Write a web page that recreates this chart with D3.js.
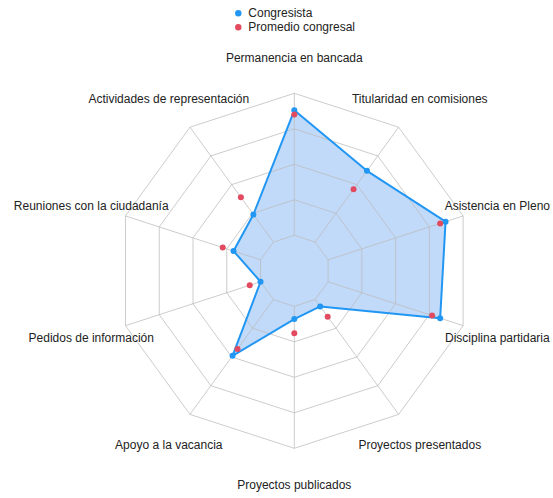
<!DOCTYPE html>
<html>
<head>
<meta charset="utf-8">
<script src="https://cdn.jsdelivr.net/npm/d3@7"></script>
<style>
  html, body { margin: 0; padding: 0; background: #fff; }
  svg { display: block; font-family: "Liberation Sans", Arial, sans-serif; }
</style>
</head>
<body>
<svg id="chart" width="553" height="498"></svg>
<script>
// Indicators, clockwise from the top
const categories = [
  "Permanencia en bancada",
  "Titularidad en comisiones",
  "Asistencia en Pleno",
  "Disciplina partidaria",
  "Proyectos presentados",
  "Proyectos publicados",
  "Apoyo a la vacancia",
  "Pedidos de información",
  "Reuniones con la ciudadanía",
  "Actividades de representación"
];
// Scores on a 0–100 scale
const congresista = [88, 62, 87, 83, 6, 9, 49, 0, 20, 24];
const promedio    = [85, 46, 83, 77, 15, 19, 43, 8, 28, 39];
const seriesNames = ["Congresista", "Promedio congresal"];
const ringValues  = [0, 25, 50, 75, 100];

const svg = d3.select("#chart");
const cx = 294.3, cy = 270.8;
const rInner = 35.5, rOuter = 177.5, rLabel = 213.5;
const blue = "#2196f3", red = "#e24a5f";

const angle = d3.scalePoint()
  .domain(categories)
  .range([0, 2 * Math.PI - 2 * Math.PI / categories.length]);
const r = d3.scaleLinear().domain([0, 100]).range([rInner, rOuter]);

const pt = (cat, rad) => {
  const a = angle(cat);
  return [cx + rad * Math.sin(a), cy - rad * Math.cos(a)];
};

const g = svg.append("g");

// Filled area for the congresista
const line = d3.line();
g.append("path")
  .attr("d", line(categories.map((c, i) => pt(c, r(congresista[i])))) + "Z")
  .attr("fill", "#4d94f0")
  .attr("fill-opacity", 0.35)
  .attr("stroke", "none");

// Decagon grid rings and spokes
const grid = g.append("g").attr("fill", "none").attr("stroke", "#bbbbbb").attr("stroke-width", 1).attr("stroke-opacity", 0.75);
ringValues.forEach(v => {
  grid.append("path").attr("d", line(categories.map(c => pt(c, r(v)))) + "Z");
});
categories.forEach(c => {
  const p0 = pt(c, r(0)), p1 = pt(c, r(100));
  grid.append("line").attr("x1", p0[0]).attr("y1", p0[1]).attr("x2", p1[0]).attr("y2", p1[1]);
});

// Congresista outline and points
g.append("path")
  .attr("d", line(categories.map((c, i) => pt(c, r(congresista[i])))) + "Z")
  .attr("fill", "none")
  .attr("stroke", blue)
  .attr("stroke-width", 2)
  .attr("stroke-linejoin", "round");
g.append("g").selectAll("circle").data(categories).join("circle")
  .attr("cx", (c, i) => pt(c, r(congresista[i]))[0])
  .attr("cy", (c, i) => pt(c, r(congresista[i]))[1])
  .attr("r", 3)
  .attr("fill", blue);

// Average points
g.append("g").selectAll("circle").data(categories).join("circle")
  .attr("cx", (c, i) => pt(c, r(promedio[i]))[0])
  .attr("cy", (c, i) => pt(c, r(promedio[i]))[1])
  .attr("r", 3)
  .attr("fill", red);

// Axis labels
g.append("g").selectAll("text").data(categories).join("text")
  .attr("x", c => pt(c, rLabel)[0])
  .attr("y", c => pt(c, rLabel)[1] + 1)
  .attr("text-anchor", "middle")
  .attr("dominant-baseline", "central")
  .attr("font-size", 12)
  .attr("fill", "#222")
  .text(c => c);

// Legend
const legend = svg.append("g").attr("transform", "translate(238.3,13.3)");
[blue, red].forEach((col, i) => {
  const row = legend.append("g").attr("transform", `translate(0,${i * 14})`);
  row.append("circle").attr("r", 3.2).attr("fill", col);
  row.append("text").attr("x", 10).attr("y", 0)
    .attr("dominant-baseline", "central")
    .attr("font-size", 12).attr("fill", "#222")
    .text(seriesNames[i]);
});
</script>
</body>
</html>
